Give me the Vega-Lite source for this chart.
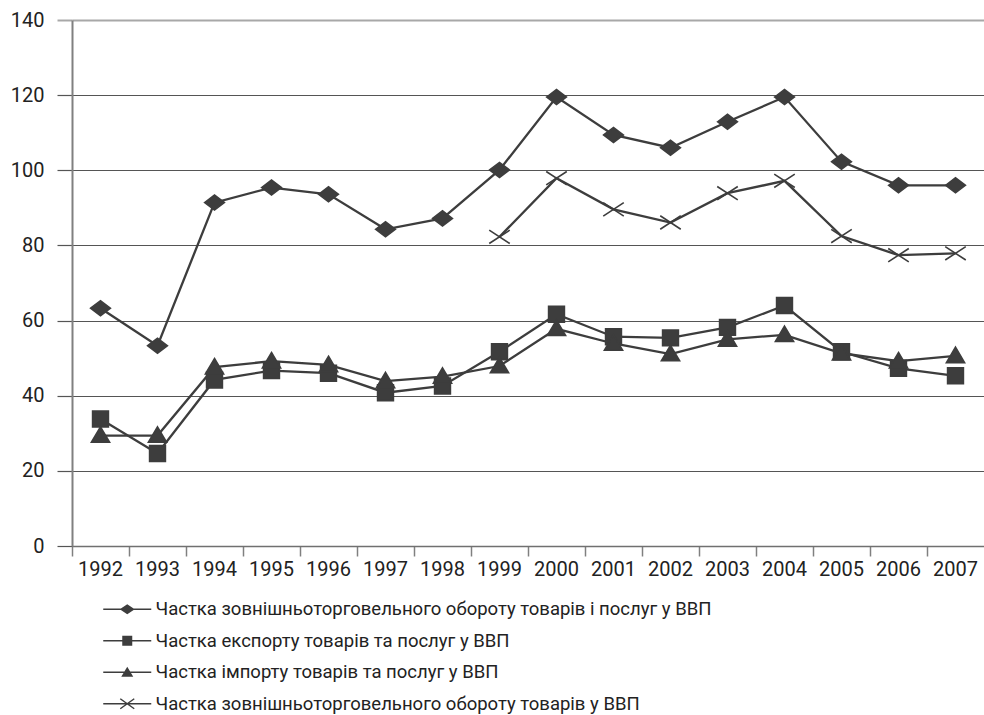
{
  "$schema": "https://vega.github.io/schema/vega-lite/v6.json",
  "width": 912,
  "height": 526,
  "autosize": "none",
  "padding": {"left": 72, "top": 20, "right": 0, "bottom": 169},
  "background": "white",
  "config": {"view": {"stroke": null}, "font": "Roboto"},
  "data": {
    "values": [
      {"year": "1992", "series": "Частка зовнішньоторговельного обороту товарів і послуг у ВВП", "value": 63.3},
      {"year": "1993", "series": "Частка зовнішньоторговельного обороту товарів і послуг у ВВП", "value": 53.3},
      {"year": "1994", "series": "Частка зовнішньоторговельного обороту товарів і послуг у ВВП", "value": 91.4},
      {"year": "1995", "series": "Частка зовнішньоторговельного обороту товарів і послуг у ВВП", "value": 95.4},
      {"year": "1996", "series": "Частка зовнішньоторговельного обороту товарів і послуг у ВВП", "value": 93.6},
      {"year": "1997", "series": "Частка зовнішньоторговельного обороту товарів і послуг у ВВП", "value": 84.3},
      {"year": "1998", "series": "Частка зовнішньоторговельного обороту товарів і послуг у ВВП", "value": 87.2},
      {"year": "1999", "series": "Частка зовнішньоторговельного обороту товарів і послуг у ВВП", "value": 100.1},
      {"year": "2000", "series": "Частка зовнішньоторговельного обороту товарів і послуг у ВВП", "value": 119.5},
      {"year": "2001", "series": "Частка зовнішньоторговельного обороту товарів і послуг у ВВП", "value": 109.4},
      {"year": "2002", "series": "Частка зовнішньоторговельного обороту товарів і послуг у ВВП", "value": 106.0},
      {"year": "2003", "series": "Частка зовнішньоторговельного обороту товарів і послуг у ВВП", "value": 112.9},
      {"year": "2004", "series": "Частка зовнішньоторговельного обороту товарів і послуг у ВВП", "value": 119.5},
      {"year": "2005", "series": "Частка зовнішньоторговельного обороту товарів і послуг у ВВП", "value": 102.3},
      {"year": "2006", "series": "Частка зовнішньоторговельного обороту товарів і послуг у ВВП", "value": 96.0},
      {"year": "2007", "series": "Частка зовнішньоторговельного обороту товарів і послуг у ВВП", "value": 96.0},
      {"year": "1992", "series": "Частка експорту товарів та послуг у ВВП", "value": 33.8},
      {"year": "1993", "series": "Частка експорту товарів та послуг у ВВП", "value": 24.6},
      {"year": "1994", "series": "Частка експорту товарів та послуг у ВВП", "value": 44.2},
      {"year": "1995", "series": "Частка експорту товарів та послуг у ВВП", "value": 46.7},
      {"year": "1996", "series": "Частка експорту товарів та послуг у ВВП", "value": 46.0},
      {"year": "1997", "series": "Частка експорту товарів та послуг у ВВП", "value": 40.8},
      {"year": "1998", "series": "Частка експорту товарів та послуг у ВВП", "value": 42.6},
      {"year": "1999", "series": "Частка експорту товарів та послуг у ВВП", "value": 51.7},
      {"year": "2000", "series": "Частка експорту товарів та послуг у ВВП", "value": 61.7},
      {"year": "2001", "series": "Частка експорту товарів та послуг у ВВП", "value": 55.7},
      {"year": "2002", "series": "Частка експорту товарів та послуг у ВВП", "value": 55.4},
      {"year": "2003", "series": "Частка експорту товарів та послуг у ВВП", "value": 58.2},
      {"year": "2004", "series": "Частка експорту товарів та послуг у ВВП", "value": 64.0},
      {"year": "2005", "series": "Частка експорту товарів та послуг у ВВП", "value": 51.7},
      {"year": "2006", "series": "Частка експорту товарів та послуг у ВВП", "value": 47.3},
      {"year": "2007", "series": "Частка експорту товарів та послуг у ВВП", "value": 45.3},
      {"year": "1992", "series": "Частка імпорту товарів та послуг у ВВП", "value": 29.4},
      {"year": "1993", "series": "Частка імпорту товарів та послуг у ВВП", "value": 29.4},
      {"year": "1994", "series": "Частка імпорту товарів та послуг у ВВП", "value": 47.6},
      {"year": "1995", "series": "Частка імпорту товарів та послуг у ВВП", "value": 49.2},
      {"year": "1996", "series": "Частка імпорту товарів та послуг у ВВП", "value": 48.2},
      {"year": "1997", "series": "Частка імпорту товарів та послуг у ВВП", "value": 43.9},
      {"year": "1998", "series": "Частка імпорту товарів та послуг у ВВП", "value": 45.1},
      {"year": "1999", "series": "Частка імпорту товарів та послуг у ВВП", "value": 47.9},
      {"year": "2000", "series": "Частка імпорту товарів та послуг у ВВП", "value": 57.8},
      {"year": "2001", "series": "Частка імпорту товарів та послуг у ВВП", "value": 53.9},
      {"year": "2002", "series": "Частка імпорту товарів та послуг у ВВП", "value": 51.1},
      {"year": "2003", "series": "Частка імпорту товарів та послуг у ВВП", "value": 55.0},
      {"year": "2004", "series": "Частка імпорту товарів та послуг у ВВП", "value": 56.2},
      {"year": "2005", "series": "Частка імпорту товарів та послуг у ВВП", "value": 51.3},
      {"year": "2006", "series": "Частка імпорту товарів та послуг у ВВП", "value": 49.2},
      {"year": "2007", "series": "Частка імпорту товарів та послуг у ВВП", "value": 50.6},
      {"year": "1999", "series": "Частка зовнішньоторговельного обороту товарів у ВВП", "value": 82.3},
      {"year": "2000", "series": "Частка зовнішньоторговельного обороту товарів у ВВП", "value": 97.9},
      {"year": "2001", "series": "Частка зовнішньоторговельного обороту товарів у ВВП", "value": 89.6},
      {"year": "2002", "series": "Частка зовнішньоторговельного обороту товарів у ВВП", "value": 86.1},
      {"year": "2003", "series": "Частка зовнішньоторговельного обороту товарів у ВВП", "value": 93.9},
      {"year": "2004", "series": "Частка зовнішньоторговельного обороту товарів у ВВП", "value": 97.2},
      {"year": "2005", "series": "Частка зовнішньоторговельного обороту товарів у ВВП", "value": 82.5},
      {"year": "2006", "series": "Частка зовнішньоторговельного обороту товарів у ВВП", "value": 77.4},
      {"year": "2007", "series": "Частка зовнішньоторговельного обороту товарів у ВВП", "value": 77.9}
    ]
  },
  "encoding": {
    "x": {
      "field": "year",
      "type": "ordinal",
      "scale": {"type": "band", "paddingInner": 0, "paddingOuter": 0},
      "axis": {
        "title": null,
        "labelAngle": 0,
        "bandPosition": 0,
        "grid": false,
        "domain": true,
        "domainColor": "#707070",
        "domainWidth": 1.5,
        "ticks": true,
        "tickSize": 10,
        "tickColor": "#808080",
        "tickWidth": 1.5,
        "labelFontSize": 20,
        "labelColor": "#222222",
        "labelPadding": 3
      }
    },
    "y": {
      "field": "value",
      "type": "quantitative",
      "scale": {"domain": [0, 140], "nice": false},
      "axis": {
        "title": null,
        "values": [0, 20, 40, 60, 80, 100, 120, 140],
        "grid": true,
        "gridColor": {"condition": {"test": "datum.value === 140", "value": "#a8a8a8"}, "value": "#555555"},
        "gridWidth": {"condition": {"test": "datum.value === 140", "value": 2}, "value": 1.2},
        "tickColor": {"condition": {"test": "datum.value === 140", "value": "#a8a8a8"}, "value": "#555555"},
        "tickWidth": {"condition": {"test": "datum.value === 140", "value": 2}, "value": 1.2},
        "tickSize": 15,
        "domainColor": "#808080",
        "domainWidth": 2,
        "labelFontSize": 20,
        "labelColor": "#222222",
        "labelPadding": 13
      }
    }
  },
  "layer": [
    {
      "mark": {"type": "line", "color": "#3d3d3d", "strokeWidth": 2.3},
      "encoding": {"detail": {"field": "series"}}
    },
    {
      "mark": {"type": "point", "fill": "#3d3d3d", "stroke": "#3d3d3d", "strokeWidth": 1.6, "opacity": 1, "size": 250},
      "encoding": {
        "shape": {
          "field": "series",
          "scale": {
            "domain": [
              "Частка зовнішньоторговельного обороту товарів і послуг у ВВП",
              "Частка експорту товарів та послуг у ВВП",
              "Частка імпорту товарів та послуг у ВВП",
              "Частка зовнішньоторговельного обороту товарів у ВВП"
            ],
            "range": [
              "M-1.25,0L0,-0.95L1.25,0L0,0.95Z",
              "M-1,-1L1,-1L1,1L-1,1Z",
              "M0,-1.1L1.15,0.85L-1.15,0.85Z",
              "M-1.3,-0.85L1.3,0.85M-1.3,0.85L1.3,-0.85"
            ]
          },
          "legend": null
        }
      }
    },
    {
      "mark": {"type": "point", "filled": true, "fill": "#3d3d3d", "opacity": 0, "size": 100},
      "encoding": {
        "shape": {
          "field": "series",
          "scale": {
            "domain": [
              "Частка зовнішньоторговельного обороту товарів і послуг у ВВП",
              "Частка експорту товарів та послуг у ВВП",
              "Частка імпорту товарів та послуг у ВВП",
              "Частка зовнішньоторговельного обороту товарів у ВВП"
            ],
            "range": [
              "M-4.8,-0.15L4.8,-0.15L4.8,0.15L-4.8,0.15ZM-1.5,0L0,-1L1.5,0L0,1Z",
              "M-4.8,-0.15L4.8,-0.15L4.8,0.15L-4.8,0.15ZM-1,-1L1,-1L1,1L-1,1Z",
              "M-4.8,-0.15L4.8,-0.15L4.8,0.15L-4.8,0.15ZM0,-1.1L1.2,0.9L-1.2,0.9Z",
              "M-4.8,-0.15L4.8,-0.15L4.8,0.15L-4.8,0.15ZM-1.313,-1.122L1.487,0.878L1.313,1.122L-1.487,-0.878ZM-1.487,0.878L1.313,-1.122L1.487,-0.878L-1.313,1.122Z"
            ]
          },
          "legend": {
            "title": null,
            "orient": "none",
            "legendX": 46,
            "legendY": 580,
            "padding": 0,
            "direction": "vertical",
            "symbolSize": 100,
            "symbolFillColor": "#3d3d3d",
            "symbolStrokeWidth": 0,
            "symbolOpacity": 1,
            "labelFontSize": 18.5,
            "labelColor": "#222222",
            "labelOffset": 19,
            "labelLimit": 0,
            "rowPadding": 12.5
          }
        }
      }
    }
  ],
  "resolve": {"scale": {"shape": "independent"}}
}
